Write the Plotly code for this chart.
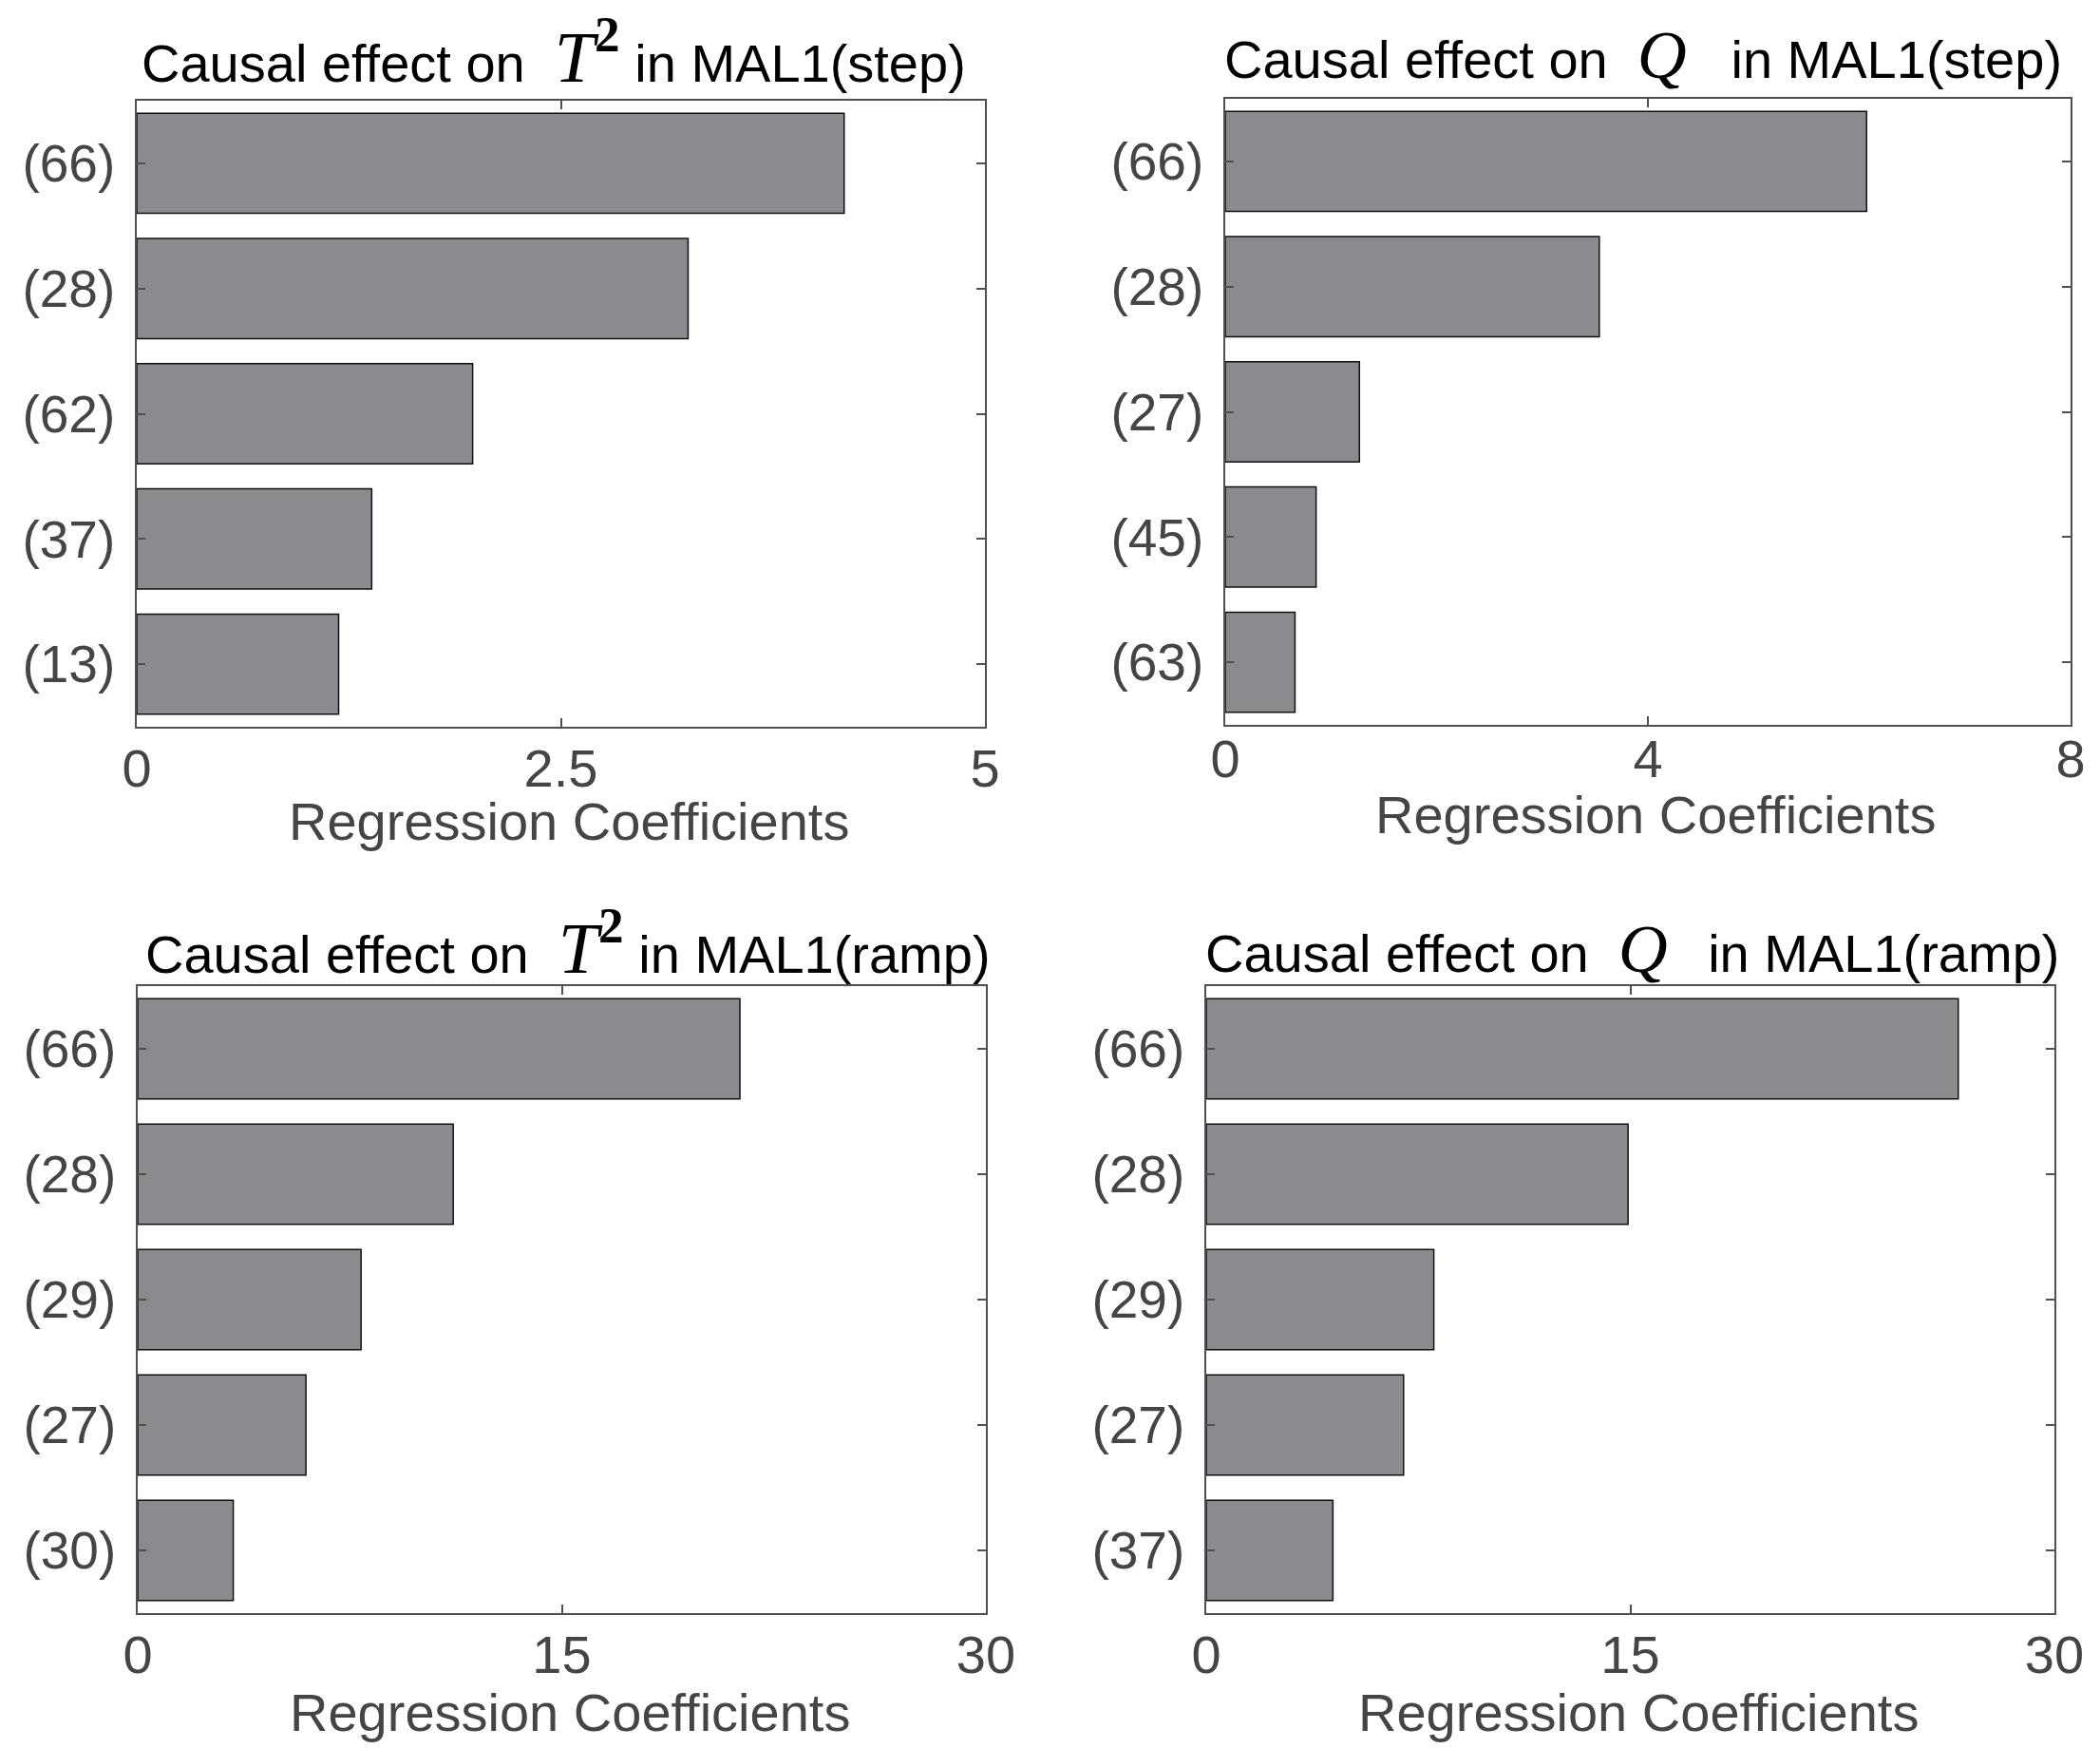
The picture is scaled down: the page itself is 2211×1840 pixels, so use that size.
import plotly.graph_objects as go

# ---- data ----
cats_t2_step = ["(66)", "(28)", "(62)", "(37)", "(13)"]
vals_t2_step = [4.17, 3.25, 1.98, 1.385, 1.19]
cats_q_step = ["(66)", "(28)", "(27)", "(45)", "(63)"]
vals_q_step = [6.07, 3.54, 1.27, 0.86, 0.66]
cats_t2_ramp = ["(66)", "(28)", "(29)", "(27)", "(30)"]
vals_t2_ramp = [21.3, 11.16, 7.9, 5.95, 3.38]
cats_q_ramp = ["(66)", "(28)", "(29)", "(27)", "(37)"]
vals_q_ramp = [26.6, 14.92, 8.05, 6.98, 4.48]

ticks_t2_step = [0, 2.5, 5]
ticks_q_step = [0, 4, 8]
ticks_ramp = [0, 15, 30]

W, H = 2211, 1840
NB = "\u00a0"
SANS = "Liberation Sans, Arial, Helvetica, sans-serif"
SERIF = "Liberation Serif, Times New Roman, serif"

def t2_title(mode):
    return ("Causal effect on" + NB * 2 +
            f"<span style='font-family:{SERIF};font-size:76px'><i>T</i></span>"
            f"<span style='font-family:{SERIF};font-size:76px'><sup><b>2</b></sup></span>" +
            " in MAL1(" + mode + ")")

def q_title(mode, after):
    return ("Causal effect on" + NB * 2 +
            f"<span style='font-family:{SERIF};font-size:72px'><i>Q</i></span>" +
            after + "in MAL1(" + mode + ")")

panels = [
    dict(cats=cats_t2_step, vals=vals_t2_step, ticks=ticks_t2_step,
         px=(136, 1029), py=(98, 757), title=t2_title("step"), tx=575, ty=47,
         xl=857, so=-6),
    dict(cats=cats_q_step, vals=vals_q_step, ticks=ticks_q_step,
         px=(1282, 2172), py=(96, 755), title=q_title("step", NB * 3), tx=1722, ty=50,
         xl=850, so=-14),
    dict(cats=cats_t2_ramp, vals=vals_t2_ramp, ticks=ticks_ramp,
         px=(137, 1030), py=(1030, 1690), title=t2_title("ramp"), tx=590, ty=984,
         xl=1794, so=-6),
    dict(cats=cats_q_ramp, vals=vals_q_ramp, ticks=ticks_ramp,
         px=(1262, 2155), py=(1030, 1690), title=q_title("ramp", NB * 2 + "\u2009"),
         tx=1710, ty=991, xl=1794, so=-6),
]

fig = go.Figure()
annotations = []
tick_color = "#454545"
line_color = "#505050"

for i, p in enumerate(panels):
    n = "" if i == 0 else str(i + 1)
    xa, ya = "x" + n, "y" + n
    fig.add_trace(go.Bar(
        x=p["vals"], y=p["cats"], orientation="h",
        xaxis=xa, yaxis=ya, width=0.8,
        marker=dict(color="#8a8b8f", line=dict(color="#111111", width=1.5)),
        showlegend=False, hoverinfo="x+y",
    ))
    xd = [p["px"][0] / W, p["px"][1] / W]
    yd = [1 - p["py"][1] / H, 1 - p["py"][0] / H]
    fig.update_layout(**{
        "xaxis" + n: dict(
            domain=xd, anchor=ya, range=[p["ticks"][0], p["ticks"][-1]],
            tickvals=p["ticks"], ticktext=[f"{t:g}" for t in p["ticks"]],
            ticks="inside", ticklen=9, tickwidth=1.5, tickcolor=line_color,
            showline=True, linecolor=line_color, linewidth=1.5, mirror="ticks",
            showgrid=False, zeroline=False, automargin=False,
            tickfont=dict(family=SANS, size=56, color=tick_color),
            ticklabelstandoff=p["so"],
        ),
        "yaxis" + n: dict(
            domain=yd, anchor=xa, type="category",
            categoryorder="array", categoryarray=p["cats"],
            range=[4.5, -0.5],
            ticks="inside", ticklen=9, tickwidth=1.5, tickcolor=line_color,
            showline=True, linecolor=line_color, linewidth=1.5, mirror="ticks",
            showgrid=False, zeroline=False, automargin=False,
            tickfont=dict(family=SANS, size=55, color=tick_color),
            ticklabelstandoff=10,
        ),
    })
    annotations.append(dict(
        text=p["title"], x=p["tx"] / W, y=1 - p["ty"] / H,
        xref="paper", yref="paper",
        xanchor="center", yanchor="middle", showarrow=False,
        font=dict(family=SANS, size=56, color="#000000"),
    ))
    cx = (p["px"][0] + p["px"][1]) / 2 + 8
    annotations.append(dict(
        text="Regression Coefficients", x=cx / W,
        y=1 - p["xl"] / H, xref="paper", yref="paper",
        xanchor="center", yanchor="middle", showarrow=False,
        font=dict(family=SANS, size=56, color=tick_color),
    ))

fig.update_layout(
    width=W, height=H, margin=dict(l=0, r=0, t=0, b=0, autoexpand=False),
    paper_bgcolor="white", plot_bgcolor="white",
    annotations=annotations, bargap=0.2,
)

fig.write_html("out.html")
